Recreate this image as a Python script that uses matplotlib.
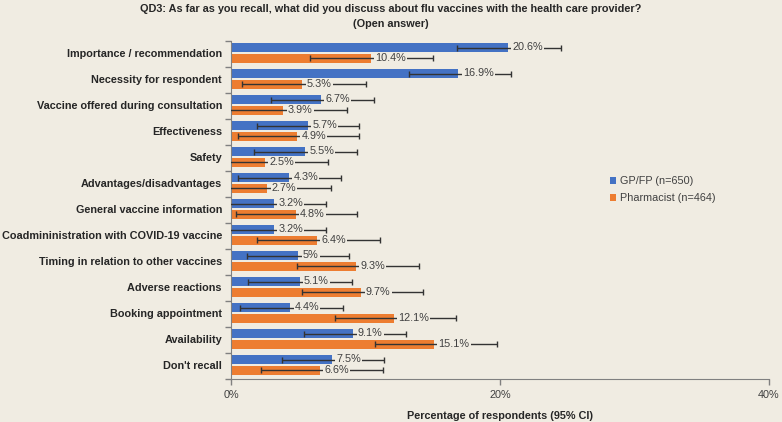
import matplotlib
matplotlib.use("Agg")
import matplotlib.pyplot as plt
import numpy as np

plt.rcParams['font.family'] = ['Liberation Sans', 'DejaVu Sans']

categories = ["Importance / recommendation", "Necessity for respondent",
              "Vaccine offered during consultation", "Effectiveness", "Safety",
              "Advantages/disadvantages", "General vaccine information",
              "Coadmininistration with COVID-19 vaccine",
              "Timing in relation to other vaccines", "Adverse reactions",
              "Booking appointment", "Availability", "Don't recall"]
gp = [20.6, 16.9, 6.7, 5.7, 5.5, 4.3, 3.2, 3.2, 5.0, 5.1, 4.4, 9.1, 7.5]
gp_labels = ["20.6%", "16.9%", "6.7%", "5.7%", "5.5%", "4.3%", "3.2%", "3.2%",
             "5%", "5.1%", "4.4%", "9.1%", "7.5%"]
gp_lo = [16.8, 13.2, 3.0, 1.9, 1.7, 0.5, -0.3, -0.3, 1.2, 1.3, 0.7, 5.4, 3.8]
gp_hi = [24.5, 20.8, 10.6, 9.5, 9.4, 8.2, 7.1, 7.1, 8.8, 9.0, 8.3, 13.0, 11.4]
ph = [10.4, 5.3, 3.9, 4.9, 2.5, 2.7, 4.8, 6.4, 9.3, 9.7, 12.1, 15.1, 6.6]
ph_labels = ["10.4%", "5.3%", "3.9%", "4.9%", "2.5%", "2.7%", "4.8%", "6.4%",
             "9.3%", "9.7%", "12.1%", "15.1%", "6.6%"]
ph_lo = [5.9, 0.8, -0.3, 0.5, -0.3, -0.3, 0.4, 1.9, 4.9, 5.3, 7.7, 10.7, 2.2]
ph_hi = [15.0, 10.0, 8.6, 9.5, 7.2, 7.4, 9.4, 11.1, 14.0, 14.3, 16.7, 19.8, 11.3]
xticks = [0, 20, 40]
xtick_labels = ["0%", "20%", "40%"]
series_names = ["GP/FP (n=650)", "Pharmacist (n=464)"]

BG = '#F0ECE2'
BLUE = '#4472C4'
ORANGE = '#ED7D31'

fig = plt.figure(figsize=(7.82, 4.22), dpi=100, facecolor=BG)
ax = fig.add_axes([231/782, 1-379/422, (769-231)/782, (379-41)/422])
ax.set_facecolor(BG)

n = len(categories)
y = np.arange(n)
h = 0.37
yb = y - 0.25
yo = y + 0.17

gp_a = np.array(gp); ph_a = np.array(ph)
ax.barh(yb, gp_a, height=h, color=BLUE, label=series_names[0], zorder=2)
ax.barh(yo, ph_a, height=h, color=ORANGE, label=series_names[1], zorder=2)

ecol = '#333333'
ax.errorbar(gp_a, yb, xerr=[gp_a-np.array(gp_lo), np.array(gp_hi)-gp_a], fmt='none',
            ecolor=ecol, elinewidth=1, capsize=2.5, capthick=1, zorder=3)
ax.errorbar(ph_a, yo, xerr=[ph_a-np.array(ph_lo), np.array(ph_hi)-ph_a], fmt='none',
            ecolor=ecol, elinewidth=1, capsize=2.5, capthick=1, zorder=3)

for vals, labs, ys in ((gp, gp_labels, yb), (ph, ph_labels, yo)):
    for v, lab, yy in zip(vals, labs, ys):
        ax.annotate(lab, (v, yy), xytext=(3.2, 0), textcoords='offset points',
                    va='center', ha='left', fontsize=7.8, color='#404040',
                    bbox=dict(boxstyle='square,pad=0.1', fc=BG, ec='none'),
                    zorder=4)

ax.set_xlim(0, 40)
ax.set_ylim(n - 0.5, -0.5)
ax.set_xticks(xticks)
ax.set_xticklabels(xtick_labels, fontsize=7.8, color='#404040')
ax.set_yticks(y - 0.04)
ax.set_yticklabels(categories, fontsize=7.8, fontweight='bold', color='#262626')
ax.tick_params(axis='y', length=0, pad=6.5)
ax.set_yticks(np.arange(-0.5, n, 1.0), minor=True)
ax.tick_params(axis='y', which='minor', length=4, color='#808080', width=1)
ax.tick_params(axis='x', length=4, color='#808080', width=1, pad=4)
for s in ['top', 'right']:
    ax.spines[s].set_visible(False)
ax.spines['left'].set_color('#808080')
ax.spines['bottom'].set_color('#808080')

ax.set_xlabel("Percentage of respondents (95% CI)", fontsize=7.8, fontweight='bold',
              color='#262626', labelpad=8)

fig.text(391/782, 1-4/422, "QD3: As far as you recall, what did you discuss about flu vaccines with the health care provider?\n(Open answer)",
         ha='center', va='top', fontsize=7.8, fontweight='bold', color='#262626',
         linespacing=1.6)

leg = fig.legend(loc='upper left', bbox_to_anchor=(605/782, 1-171/422), frameon=False,
                 fontsize=7.8, handlelength=0.55, handleheight=0.55, handletextpad=0.35,
                 labelspacing=0.65, borderpad=0)
for t in leg.get_texts():
    t.set_color('#404040')

fig.savefig('out.png', dpi=100, facecolor=BG)
